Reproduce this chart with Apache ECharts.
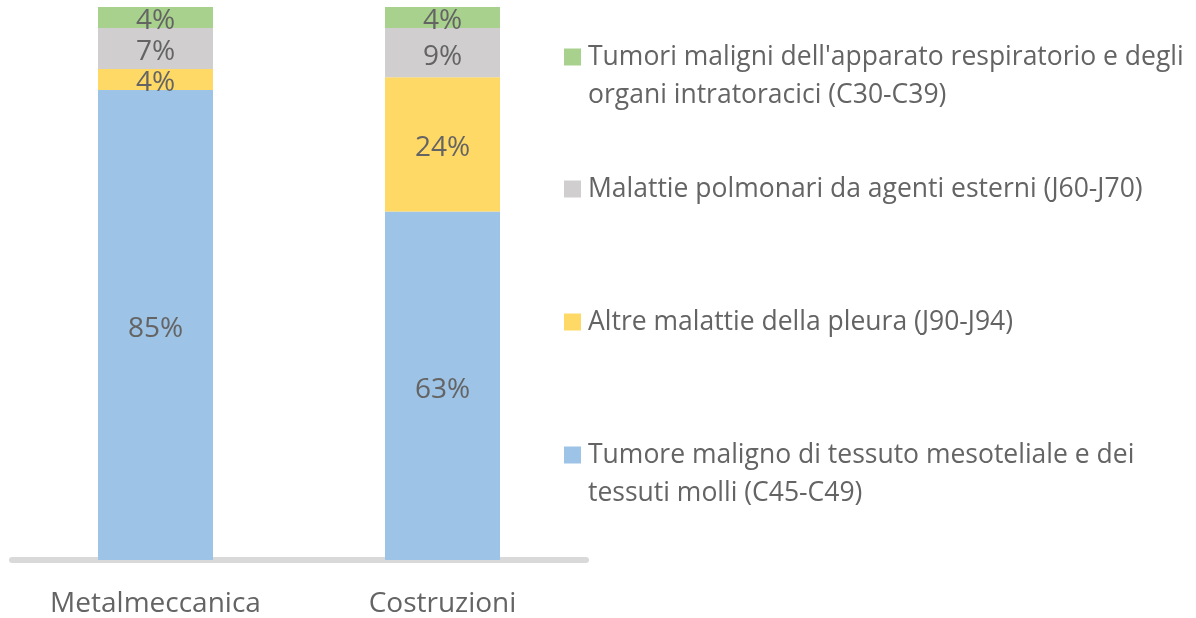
<!DOCTYPE html>
<html>
<head>
<meta charset="utf-8">
<script src="https://cdn.jsdelivr.net/npm/echarts@6/dist/echarts.min.js"></script>
<style>
  html, body { margin: 0; padding: 0; background: #fff; }
  #chart { width: 1196px; height: 618px; }
</style>
</head>
<body>
<div id="chart"></div>
<script>
// categories on the x axis
const categories = ['Metalmeccanica', 'Costruzioni']

// series names (stack order, bottom to top)
const seriesNames = [
  'Tumore maligno di tessuto mesoteliale e dei tessuti molli (C45-C49)',
  'Altre malattie della pleura (J90-J94)',
  'Malattie polmonari da agenti esterni (J60-J70)',
  "Tumori maligni dell'apparato respiratorio e degli organi intratoracici (C30-C39)"
]

// legend text as shown, with the line breaks of the picture
const legendLines = [
  ['Tumore maligno di tessuto mesoteliale e dei', 'tessuti molli (C45-C49)'],
  ['Altre malattie della pleura (J90-J94)'],
  ['Malattie polmonari da agenti esterni (J60-J70)'],
  ["Tumori maligni dell'apparato respiratorio e degli", 'organi intratoracici (C30-C39)']
]

// shares in percent, per category
const mesotelioma = [85.0, 63.0]
const pleura = [3.8, 24.3]
const polmonari = [7.4, 8.9]
const respiratorio = [3.8, 3.8]

const colors = ['#9DC3E6', '#FFD966', '#D0CECE', '#A9D18E']
const textColor = '#646464'
const font = '"Open Sans", sans-serif'

const chart = echarts.init(document.getElementById('chart'))

const values = [mesotelioma, pleura, polmonari, respiratorio]

// one legend per entry; the first line of each entry sits beside its icon
const legendTops = [398, 303, 170, 0]
const legends = [3, 2, 1, 0].map(i => {
  const lines = legendLines[i]
  return {
    data: [seriesNames[i]],
    orient: 'vertical',
    left: 564,
    top: legendTops[i],
    padding: 0,
    itemWidth: 17,
    itemHeight: 17,
    icon: 'rect',
    selectedMode: false,
    formatter: () => (lines.length > 1 ? '\n' + lines.join('\n') : lines[0]),
    textStyle: {
      color: textColor,
      fontFamily: font,
      fontSize: 26.5,
      lineHeight: 38,
      padding: [0, 0, 0, 2]
    }
  }
})

chart.setOption({
  animation: false,
  legend: legends,
  grid: {
    left: 12,
    right: 610,
    top: 7,
    bottom: 57
  },
  xAxis: {
    type: 'category',
    data: categories,
    offset: 3,
    axisLine: {
      lineStyle: { color: '#D9D9D9', width: 6 }
    },
    axisTick: { show: false },
    axisLabel: {
      color: textColor,
      fontFamily: font,
      fontSize: 28,
      margin: 27
    }
  },
  yAxis: {
    type: 'value',
    min: 0,
    max: 100,
    show: false,
    splitLine: { show: false }
  },
  series: seriesNames.map((name, i) => ({
    name: name,
    type: 'bar',
    stack: 'tot',
    data: values[i],
    barWidth: 115,
    itemStyle: { color: colors[i] },
    label: {
      show: true,
      position: 'inside',
      offset: [0, 4],
      color: textColor,
      fontFamily: font,
      fontSize: 28,
      formatter: p => Math.round(p.value) + '%'
    }
  }))
})
</script>
</body>
</html>
